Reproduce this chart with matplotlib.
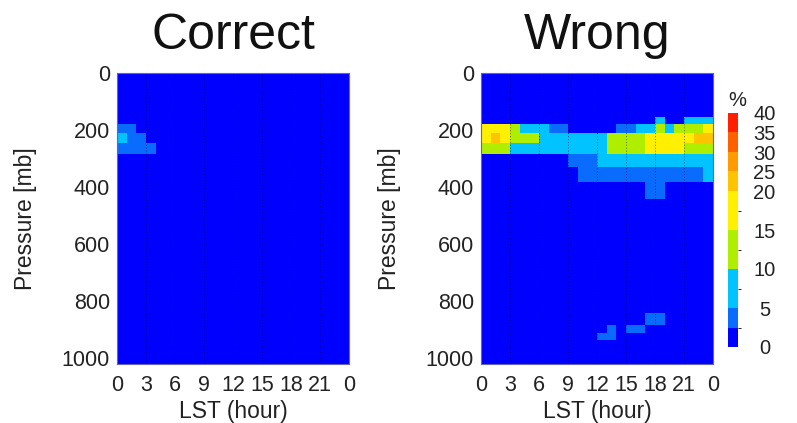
import numpy as np
import matplotlib
matplotlib.use("Agg")
import matplotlib.pyplot as plt
from matplotlib.colors import ListedColormap, BoundaryNorm

plt.rcParams['font.family'] = ['Liberation Sans', 'DejaVu Sans']

# ---------------- data ----------------
hour_edges = list(range(25))
hour_ticks = [0, 3, 6, 9, 12, 15, 18, 21, 24]
hour_ticklabels = ['0', '3', '6', '9', '12', '15', '18', '21', '0']
pressure_edges = [0, 50, 100, 153, 179, 209, 244, 284, 331, 383, 441, 505,
                  575, 650, 730, 800, 842, 884, 912, 937, 965, 990, 1020]
pressure_ticks = [0, 200, 400, 600, 800, 1000]
background_pct = 1.0

# "Correct" panel: rows keyed by the top pressure edge of the row (mb)
correct_179 = [4, 4, 1, 1, 1, 1, 1, 1, 1, 1, 1, 1, 1, 1, 1, 1, 1, 1, 1, 1, 1, 1, 1, 1]
correct_209 = [7, 4, 4, 1, 1, 1, 1, 1, 1, 1, 1, 1, 1, 1, 1, 1, 1, 1, 1, 1, 1, 1, 1, 1]
correct_244 = [4, 4, 4, 4, 1, 1, 1, 1, 1, 1, 1, 1, 1, 1, 1, 1, 1, 1, 1, 1, 1, 1, 1, 1]

# "Wrong" panel
wrong_153 = [1, 1, 1, 1, 1, 1, 1, 1, 1, 1, 1, 1, 1, 1, 1, 1, 1, 1, 6, 1, 1, 6, 6, 6]
wrong_179 = [16, 17, 16, 12, 7, 7, 7, 4, 4, 1, 1, 1, 1, 1, 4, 4, 7, 7, 12, 7, 12, 12, 12, 16]
wrong_209 = [17, 23, 17, 13, 12, 12, 7, 7, 7, 7, 7, 7, 7, 12, 12, 12, 12, 17, 18, 18, 18, 16, 24, 22]
wrong_244 = [12, 12, 12, 7, 7, 7, 7, 7, 7, 7, 7, 7, 7, 12, 12, 12, 12, 17, 17, 17, 17, 12, 12, 12]
wrong_284 = [1, 1, 1, 1, 1, 1, 1, 1, 1, 4, 4, 4, 7, 7, 7, 7, 7, 7, 7, 7, 7, 7, 7, 7]
wrong_331 = [1, 1, 1, 1, 1, 1, 1, 1, 1, 1, 4, 4, 4, 4, 4, 4, 4, 4, 4, 4, 4, 4, 4, 7]
wrong_383 = [1, 1, 1, 1, 1, 1, 1, 1, 1, 1, 1, 1, 1, 1, 1, 1, 1, 4, 4, 1, 1, 1, 1, 1]
wrong_842 = [1, 1, 1, 1, 1, 1, 1, 1, 1, 1, 1, 1, 1, 1, 1, 1, 1, 4, 4, 1, 1, 1, 1, 1]
wrong_884 = [1, 1, 1, 1, 1, 1, 1, 1, 1, 1, 1, 1, 1, 4, 1, 4, 4, 1, 1, 1, 1, 1, 1, 1]
wrong_912 = [1, 1, 1, 1, 1, 1, 1, 1, 1, 1, 1, 1, 4, 4, 1, 1, 1, 1, 1, 1, 1, 1, 1, 1]

correct_rows = {179: correct_179, 209: correct_209, 244: correct_244}
wrong_rows = {153: wrong_153, 179: wrong_179, 209: wrong_209, 244: wrong_244,
              284: wrong_284, 331: wrong_331, 383: wrong_383,
              842: wrong_842, 884: wrong_884, 912: wrong_912}

level_bounds = [0, 2.5, 5, 7.5, 10, 12.5, 15, 17.5, 20, 25, 30, 35, 40]
level_colors = ['#0000ff', '#0a6cff', '#00c3ff', '#00c3ff', '#b0ee00', '#b0ee00',
                '#ffef00', '#ffef00', '#ffc400', '#ff9a00', '#ff6000', '#ff2000']
cbar_ticks = [0, 5, 10, 15, 20, 25, 30, 35, 40]


def build(rows):
    z = np.full((len(pressure_edges) - 1, len(hour_edges) - 1), background_pct)
    for top, vals in rows.items():
        z[pressure_edges.index(top)] = vals
    return z


cmap = ListedColormap(level_colors)
norm = BoundaryNorm(level_bounds, cmap.N)

W, H = 797, 423
fig = plt.figure(figsize=(W / 100, H / 100), dpi=100)

def px_axes(x0, x1, y0, y1):
    return fig.add_axes([x0 / W, 1 - y1 / H, (x1 - x0) / W, (y1 - y0) / H])

ax_l = px_axes(117, 349, 73, 364)
ax_r = px_axes(481, 713, 73, 364)

mesh = None
for ax, rows, title in [(ax_l, correct_rows, 'Correct'), (ax_r, wrong_rows, 'Wrong')]:
    mesh = ax.pcolormesh(hour_edges, pressure_edges, build(rows), cmap=cmap, norm=norm,
                         shading='flat')
    ax.set_xlim(0, 24)
    ax.set_ylim(1020, 0)
    ax.set_xticks(hour_ticks)
    ax.set_xticklabels(hour_ticklabels)
    ax.set_yticks(pressure_ticks)
    ax.tick_params(axis='both', length=0, labelsize=15.5, colors='#222222')
    ax.tick_params(axis='x', pad=8)
    ax.tick_params(axis='y', pad=5)
    ax.grid(axis='x', linestyle=(0, (1, 2)), color='#000050', alpha=0.55, lw=0.7)
    for sp in ax.spines.values():
        sp.set_color('#6666aa')
        sp.set_linewidth(0.8)
    ax.set_xlabel('LST (hour)', fontsize=16.5, color='#222222')
    ax.set_ylabel('Pressure [mb]', fontsize=16.5, color='#222222')
    ax.xaxis.set_label_coords(0.5, -0.125)
    ax.yaxis.set_label_coords(-0.345, 0.5)
    ax.set_title(title, fontsize=36, pad=17, color='#111111')

cax = px_axes(728, 738, 113, 347)
cb = fig.colorbar(mesh, cax=cax, boundaries=level_bounds, spacing='uniform', ticks=cbar_ticks)
cb.outline.set_visible(False)
cax.tick_params(length=0, labelsize=14.5, pad=19, colors='#222222')
for lab in cax.get_yticklabels():
    lab.set_horizontalalignment('center')
fig.text(737 / W, 1 - 100 / H, '%', fontsize=14.5, ha='center', va='center', color='#222222')

fig.savefig('out.png', dpi=100)
